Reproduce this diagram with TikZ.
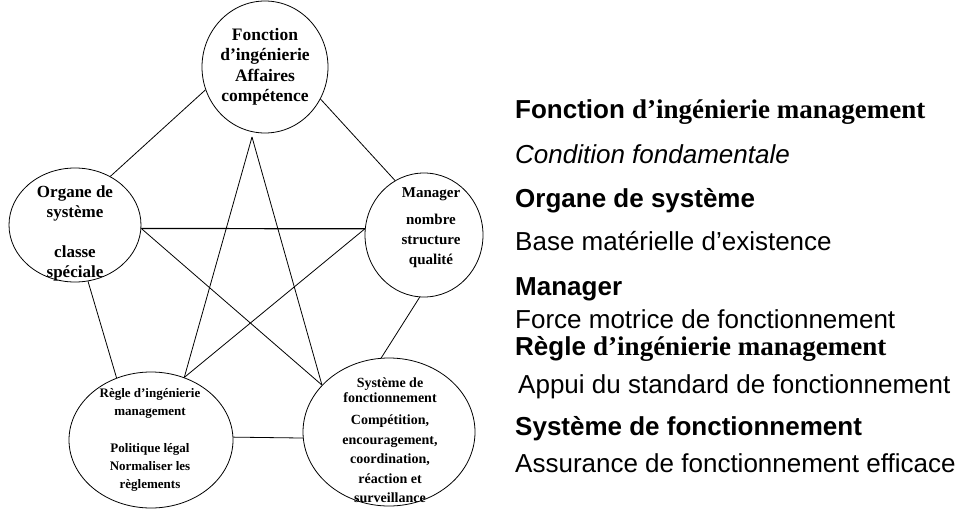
\documentclass[tikz,border=0pt]{standalone}
\usepackage{fontspec}
\setmainfont{Liberation Serif}
\newfontfamily\arialf{Liberation Sans}
\usetikzlibrary{shapes.geometric}
\begin{document}
\begin{tikzpicture}[x=1pt,y=-1pt,
  oval/.style={draw, ellipse, line width=0.8pt, inner sep=0pt},
  link/.style={line width=0.8pt},
  lbl/.style={align=center, inner sep=0pt},
  side/.style={anchor=base west, inner sep=0pt},
  sreg/.style={font=\arialf\fontsize{26}{30}\selectfont},
  sbold/.style={font=\arialf\bfseries\fontsize{26}{30}\selectfont},
  sital/.style={font=\arialf\itshape\fontsize{26}{30}\selectfont}]
\useasboundingbox (0,0) rectangle (965,508);

% ellipses
\node[oval, minimum width=126, minimum height=132] (T) at (265,67) {};
\node[oval, minimum width=132, minimum height=114] (L) at (75,225) {};
\node[oval, minimum width=118, minimum height=124] (R) at (424,235) {};
\node[oval, minimum width=164, minimum height=136] (BL) at (151,440) {};
\node[oval, minimum width=172, minimum height=148] (BR) at (389,432) {};

% texts in ellipses
\node[lbl, font=\bfseries\fontsize{17.5}{20.5}\selectfont] (tT) at (265,67)
  {Fonction\\d’ingénierie\\Affaires\\compétence};
\node[lbl, font=\bfseries\fontsize{17}{20}\selectfont] (tL) at (75,233)
  {Organe de\\système\\[20pt]classe\\spéciale};
\node[lbl, font=\bfseries\fontsize{15}{20}\selectfont] (tR) at (431,228)
  {Manager\\[7pt]nombre\\structure\\qualité};
\node[lbl, font=\bfseries\fontsize{13}{18}\selectfont] (tBL) at (150,440)
  {Règle d’ingénierie\\management\\[19pt]Politique légal\\Normaliser les\\règlements};
\node[lbl, font=\bfseries\fontsize{14}{19.5}\selectfont] (tBR) at (390,440)
  {Système de\\[-4pt]fonctionnement\\[2.5pt]Compétition,\\encouragement,\\coordination,\\réaction et\\surveillance};

% pentagon edges
\draw[link] (T.201) -- (L.54);
\draw[link] (T.330) -- (R.118);
\draw[link] (R.266) -- (BR.96);
\draw[link] (L.283) -- (BL.119);
\draw[link] (BL.2) -- (BR.184);

% star
\coordinate (apex) at (252,137);
\draw[link] (apex) -- (BL.62);
\draw[link] (apex) -- (BR.145);
\draw[link, line width=1.2pt] (L.357) -- (R.174);
\draw[link] (L.357) -- (BR.145);
\draw[link] (R.174) -- (BL.62);

% side texts
\node[side, sbold] (s1) at (515,118) {Fonction {\rmfamily\fontsize{27}{30}\selectfont d’ingénierie management}};
\node[side, sital] (s2) at (515,163) {Condition fondamentale};
\node[side, sbold] (s3) at (515,207) {Organe de système};
\node[side, sreg] (s4) at (515,250) {Base matérielle d’existence};
\node[side, sbold] (s5) at (515,295) {Manager};
\node[side, sreg] (s6) at (515,328) {Force motrice de fonctionnement};
\node[side, sbold] (s7) at (515,355) {Règle {\rmfamily\fontsize{27}{30}\selectfont d’ingénierie management}};
\node[side, sreg] (s8) at (518,393) {Appui du standard de fonctionnement};
\node[side, sbold] (s9) at (515,435) {Système de fonctionnement};
\node[side, sreg] (s10) at (515,472) {Assurance de fonctionnement efficace};
\end{tikzpicture}
\end{document}
